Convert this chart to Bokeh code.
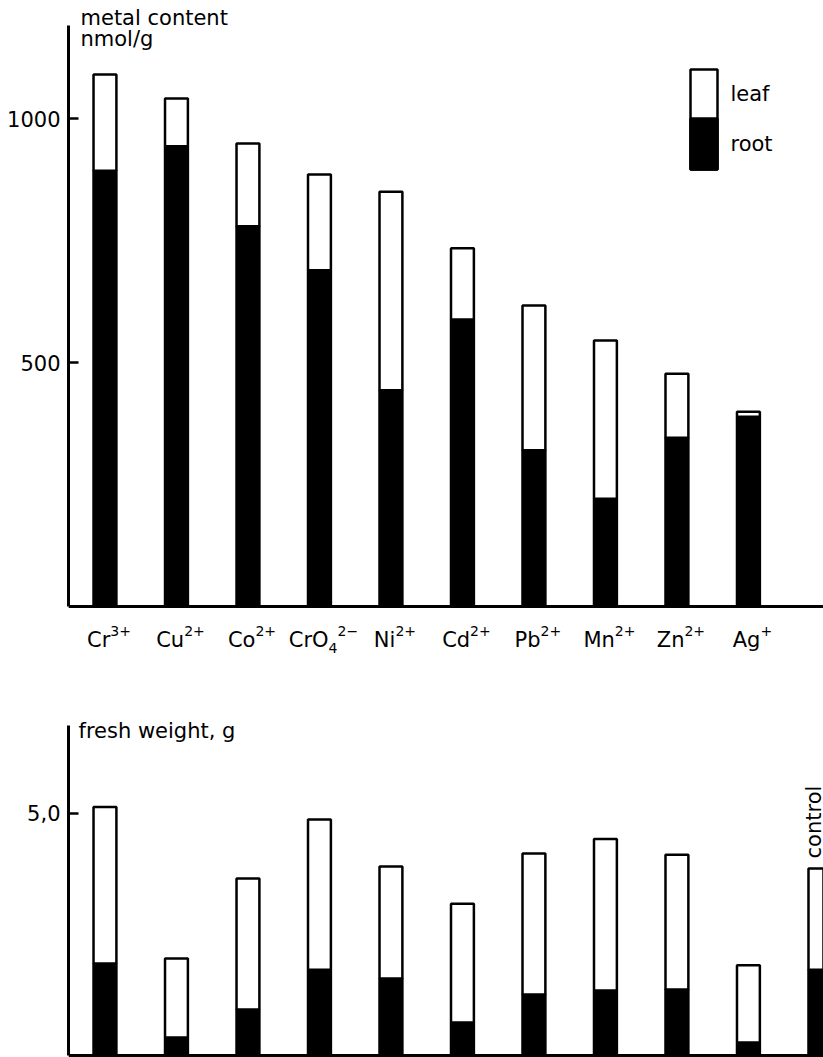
import math

from bokeh.plotting import figure
from bokeh.layouts import column
from bokeh.models import FixedTicker, BoxAnnotation, Label, Range1d, ColumnDataSource, Span
from bokeh.core.properties import value
from bokeh.embed import file_html
from bokeh.resources import INLINE

FONT = "DejaVu Sans"
FS = "21px"
SMALL = "14px"

# metal ions supplied to the plants: symbol, subscript and charge
metal_symbols = ["Cr", "Cu", "Co", "CrO", "Ni", "Cd", "Pb", "Mn", "Zn", "Ag"]
metal_subscripts = ["", "", "", "4", "", "", "", "", "", ""]
metal_charges = ["3+", "2+", "2+", "2−", "2+", "2+", "2+", "2+", "2+", "+"]

# metal content, nmol/g (root part and leaf part of each stacked bar)
content_root = [893, 943, 779, 689, 443, 588, 320, 221, 346, 389]
content_leaf = [197, 98, 170, 196, 407, 146, 297, 324, 131, 10]

# fresh weight, g (ten metals plus the untreated control)
weight_groups = [s + b for s, b in zip(metal_symbols, metal_subscripts)] + ["control"]
weight_root = [1.90, 0.37, 0.95, 1.77, 1.59, 0.68, 1.26, 1.34, 1.36, 0.27, 1.77]
weight_leaf = [3.23, 1.63, 2.70, 3.10, 2.31, 2.45, 2.91, 3.13, 2.78, 1.59, 2.09]

X_START, X_END = -0.51, 10.05
BAR_W = 0.32
LW = 2.5

# DejaVu Sans advance widths (em) for laying out the ion labels
ADV = {"C": .698, "r": .411, "u": .634, "o": .612, "O": .787, "N": .748, "i": .278,
       "d": .635, "P": .603, "b": .635, "M": .863, "n": .634, "Z": .685, "A": .684,
       "g": .635, "+": .838, "−": .838}


def text_width(s, px):
    return sum(ADV.get(c, .636) for c in s) * px


def base_figure(height, y_start, y_end, axis_top):
    p = figure(width=823, height=height,
               x_range=Range1d(X_START, X_END), y_range=Range1d(y_start, y_end),
               output_backend="svg", toolbar_location=None,
               min_border_left=68, min_border_right=0,
               min_border_top=0, min_border_bottom=0)
    p.grid.visible = False
    p.outline_line_color = None
    p.background_fill_color = "white"
    p.border_fill_color = "white"
    p.xaxis.visible = False
    ax = p.yaxis
    ax.bounds = (0, axis_top)
    ax.axis_line_width = 3
    ax.axis_line_color = "black"
    ax.minor_tick_line_color = None
    ax.major_tick_line_width = LW
    ax.major_tick_in = 10
    ax.major_tick_out = 0
    ax.major_label_standoff = 8
    ax.major_label_text_font = FONT
    ax.major_label_text_font_size = FS
    ax.major_label_text_color = "black"
    p.add_layout(Span(location=0, dimension="width", line_color="black", line_width=3))
    return p


def label(p, text, x, y, **kw):
    p.add_layout(Label(x=x, y=y, x_units="screen", y_units="screen", text=text,
                       text_font=FONT, text_font_size=FS, text_color="black", **kw))


# ---------- metal content ----------
p1 = base_figure(680, -151.6, 1241.8, 1190)
src1 = ColumnDataSource(dict(x=list(range(len(metal_symbols))), root=content_root, leaf=content_leaf))
p1.vbar_stack(["root", "leaf"], x="x", width=BAR_W, source=src1,
              fill_color=["black", "white"], line_color="black", line_width=LW)
p1.yaxis.ticker = FixedTicker(ticks=[500, 1000])

# ion labels under the bars, with sub- and superscripts
base_px, small_px = 21, 14
lab = dict(x=[], base=[], bx=[], sub=[], subx=[], sup=[], supx=[])
for i, (sym, sub, chg) in enumerate(zip(metal_symbols, metal_subscripts, metal_charges)):
    wb = text_width(sym, base_px)
    ws = text_width(sub, small_px)
    wc = text_width(chg, small_px)
    left = 4 - (wb + ws + wc) / 2
    lab["x"].append(i)
    lab["base"].append(sym)
    lab["bx"].append(left)
    lab["sub"].append(sub)
    lab["subx"].append(left + wb)
    lab["sup"].append(chg)
    lab["supx"].append(left + wb + ws)
src_lab = ColumnDataSource(lab)
common = dict(x="x", y=0, source=src_lab, text_font=value(FONT), text_color="black",
              text_align="left", text_baseline="middle")
p1.text(text="base", x_offset="bx", y_offset=33, text_font_size=value(FS), **common)
p1.text(text="sub", x_offset="subx", y_offset=41, text_font_size=value(SMALL), **common)
p1.text(text="sup", x_offset="supx", y_offset=24, text_font_size=value(SMALL), **common)

label(p1, "metal content", 12, 651)
label(p1, "nmol/g", 12, 630)

# key: a split bar with its two labels
box = dict(left_units="screen", right_units="screen", top_units="screen", bottom_units="screen",
           fill_alpha=1, line_color="black", line_alpha=1, line_width=LW)
p1.add_layout(BoxAnnotation(left=622, right=649, top=611, bottom=511, fill_color="white", **box))
p1.add_layout(BoxAnnotation(left=622, right=649, top=562, bottom=511, fill_color="black", **box))
label(p1, "leaf", 662, 587, text_baseline="middle")
label(p1, "root", 662, 537, text_baseline="middle")

# ---------- fresh weight ----------
p2 = base_figure(377, -0.041, 7.738, 6.81)
src2 = ColumnDataSource(dict(x=list(range(len(weight_groups))), root=weight_root, leaf=weight_leaf))
p2.vbar_stack(["root", "leaf"], x="x", width=BAR_W, source=src2,
              fill_color=["black", "white"], line_color="black", line_width=LW)
p2.yaxis.ticker = FixedTicker(ticks=[5])
p2.yaxis.major_label_overrides = {5: "5,0"}

label(p2, "fresh weight, g", 10, 315)

ctrl = len(weight_groups) - 1
p2.add_layout(Label(x=ctrl, y=weight_root[ctrl] + weight_leaf[ctrl],
                    x_offset=-6, y_offset=10, angle=math.pi / 2,
                    text="control", text_font=FONT, text_font_size=FS,
                    text_color="black", text_align="left", text_baseline="middle"))

layout = column(p1, p2, spacing=0)
open("out.html", "w").write(file_html(layout, INLINE))
